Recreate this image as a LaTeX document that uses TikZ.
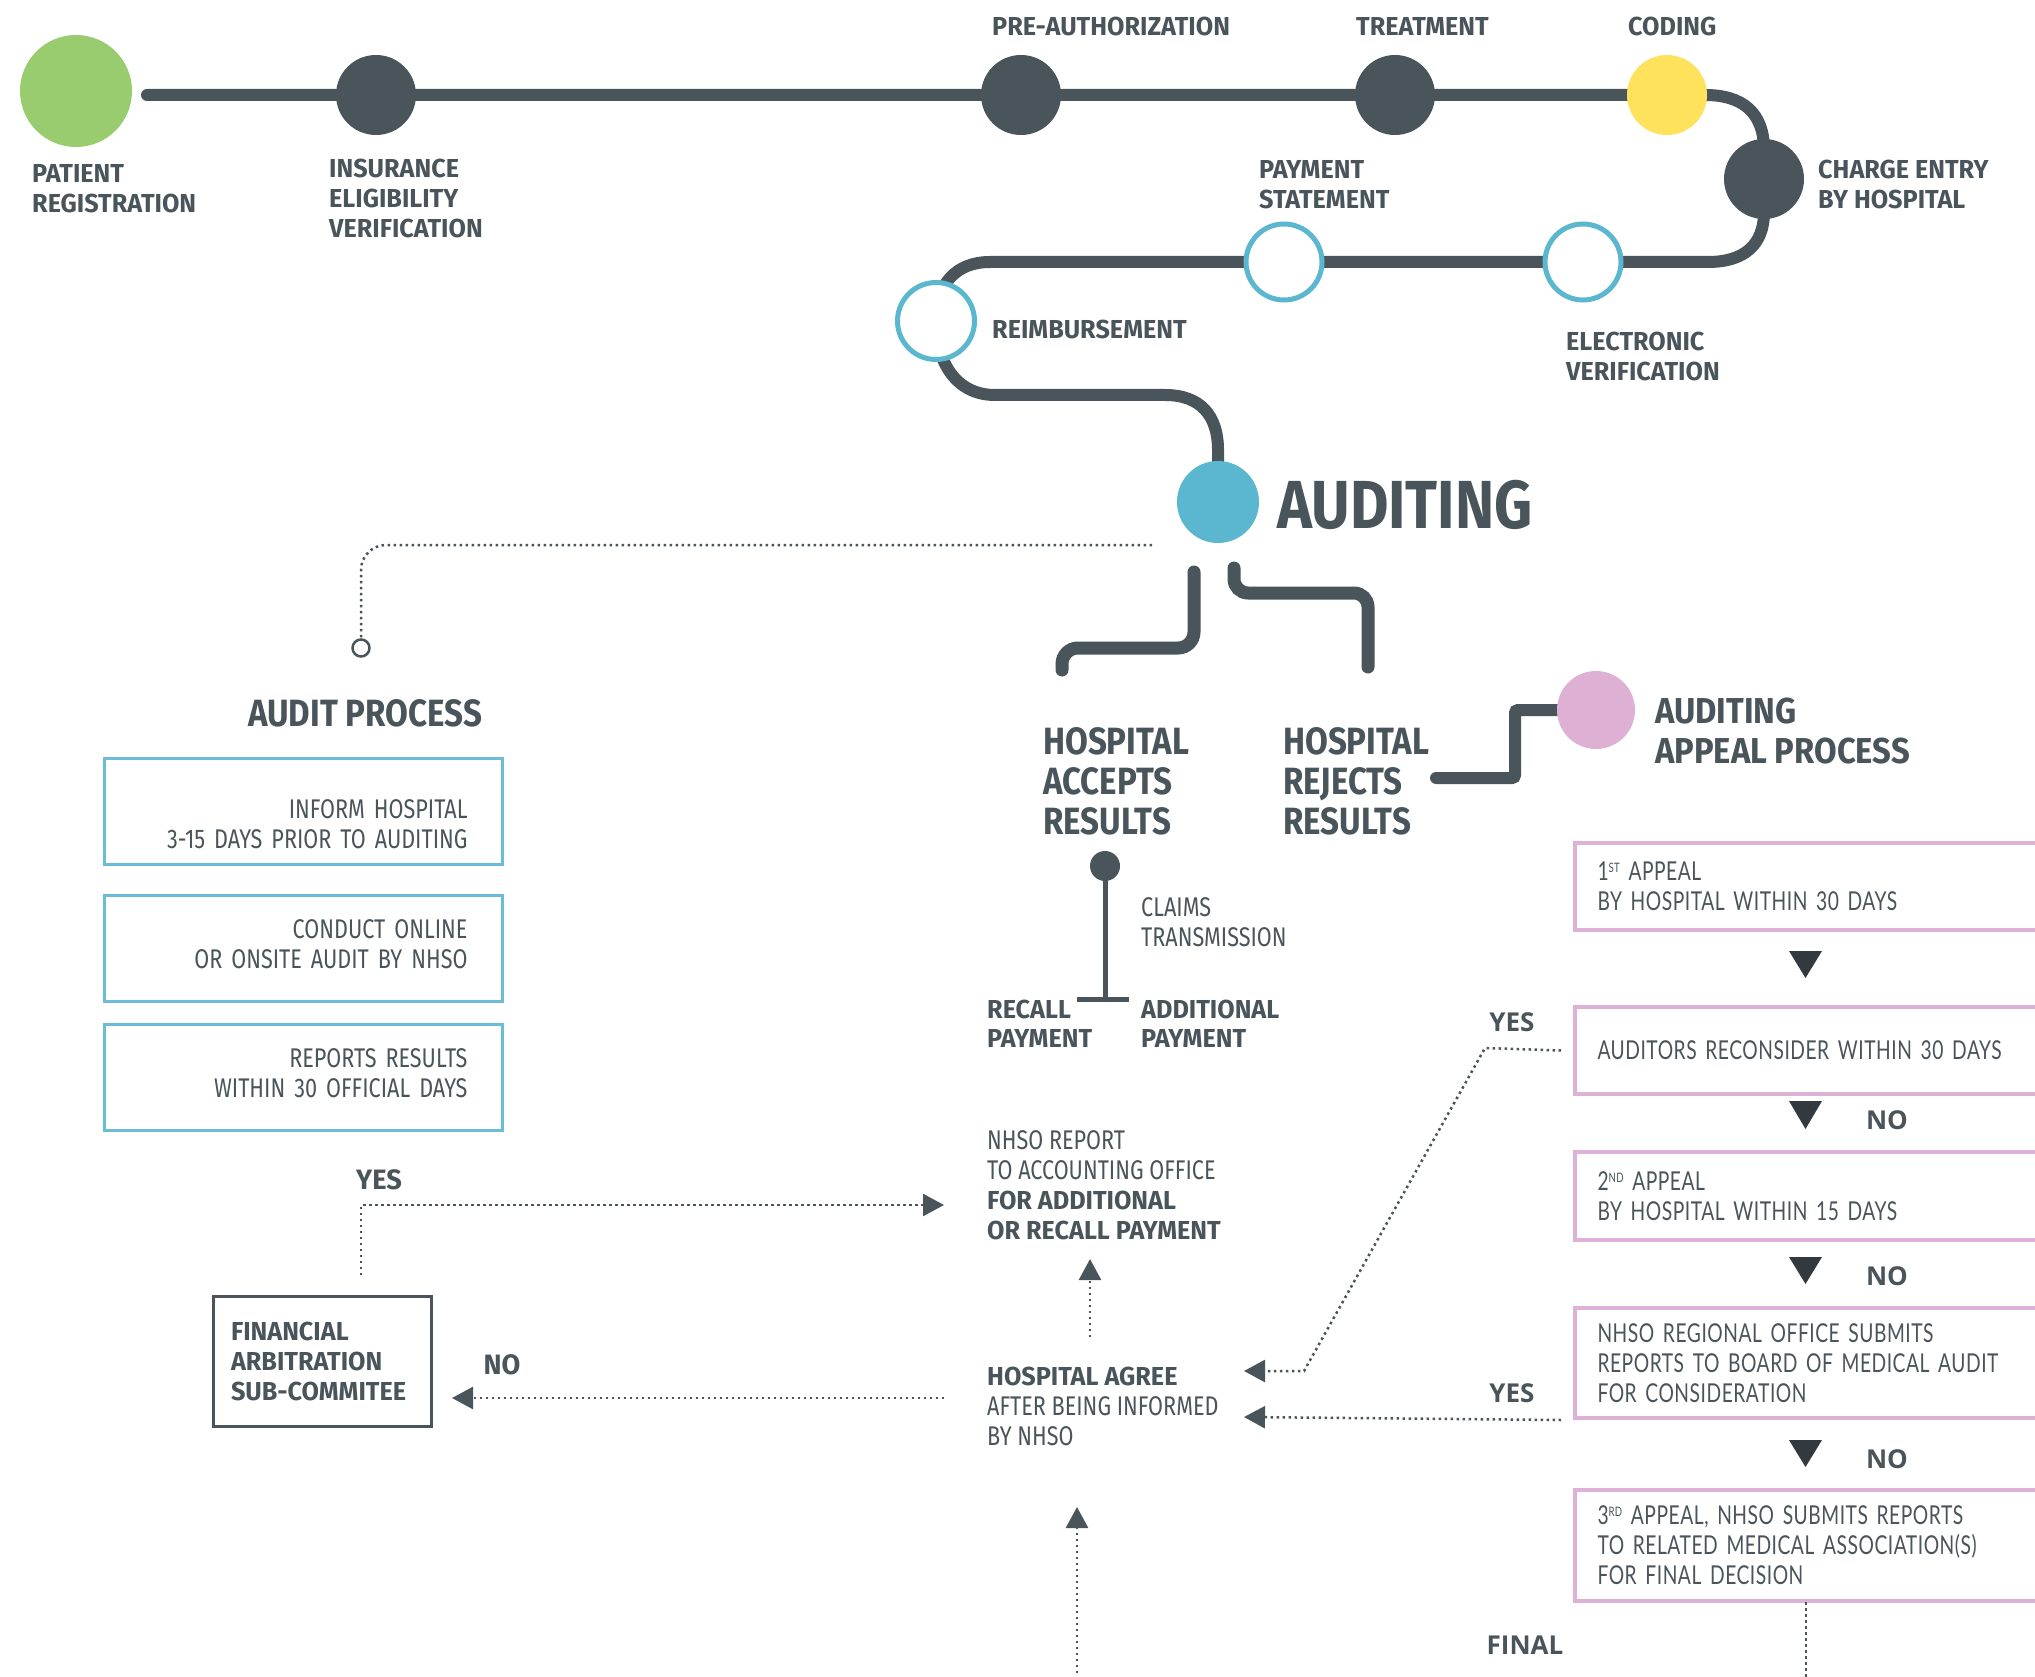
\documentclass[tikz,border=0pt]{standalone}
\usepackage{fontspec}
\usetikzlibrary{arrows.meta,backgrounds}
\setmainfont{Fira Sans}
\newfontfamily\fcb[FakeStretch=0.97]{Fira Sans}
\newfontfamily\fcc[FakeStretch=0.87]{Fira Sans}
\newfontfamily\fcd[FakeStretch=0.91]{Fira Sans}
\newfontfamily\fcl[FakeStretch=0.80]{Fira Sans}
\newfontfamily\fwd[FakeStretch=0.74,LetterSpace=2]{Lato}
\newfontfamily\fwb{Open Sans}
\hyphenpenalty=10000
\exhyphenpenalty=10000
\definecolor{dk}{RGB}{74,84,91}
\definecolor{gr}{RGB}{152,204,110}
\definecolor{ye}{RGB}{255,226,92}
\definecolor{bl}{RGB}{91,182,207}
\definecolor{blb}{RGB}{107,189,214}
\definecolor{pk}{RGB}{222,176,211}
\definecolor{pkb}{RGB}{221,178,214}
\definecolor{tri}{RGB}{51,58,63}
\tikzset{
  tl/.style={line width=12pt, draw=dk, line cap=round},
  br/.style={line width=13pt, draw=dk, line cap=round, rounded corners=16pt},
  dotl/.style={draw=dk, line width=2.5pt, dash pattern=on 2.5pt off 3.5pt},
  dotarr/.style={dotl, -{Triangle[length=21pt,width=22pt]}},
  blob/.style={circle, inner sep=0pt, draw=none, minimum size=80pt},
  ring/.style={circle, inner sep=0pt, draw=bl, line width=5pt, fill=white, minimum size=76pt},
  lab/.style={inner sep=0pt, anchor=north west, align=left, text=dk, font=\fcb\bfseries\fontsize{26}{30}\selectfont},
  labl/.style={lab, font=\fcl\fontsize{27}{30}\selectfont},
  big/.style={lab, font=\fcc\bfseries\fontsize{38}{40}\selectfont},
  yn/.style={inner sep=0pt, anchor=center, text=dk, font=\fcb\bfseries\fontsize{28}{30}\selectfont},
  ynw/.style={inner sep=0pt, anchor=center, text=dk, font=\fwb\bfseries\fontsize{26}{30}\selectfont},
  bbox/.style={draw=blb, line width=3pt, anchor=north west, minimum width=398pt, text width=328pt, inner xsep=35pt, inner ysep=0pt, align=right, text=dk, font=\fcl\fontsize{27}{30}\selectfont},
  pbox/.style={draw=pkb, line width=4pt, anchor=north west, text width=430pt, inner xsep=22.5pt, inner ysep=0pt, align=left, text=dk, font=\fwd\fontsize{26}{30}\selectfont},
  tri/.style={fill=tri},
}
\newcommand\supx[1]{\raisebox{8pt}{\fontsize{13}{13}\selectfont #1}}
\begin{document}
\begin{tikzpicture}[x=1pt,y=-1pt]
\useasboundingbox (0,0) rectangle (2035,1677);
\clip (0,0) rectangle (2035,1677);

% ---------- timeline circles
\node[blob, fill=gr, minimum size=112pt] (reg) at (76,91) {};
\node[blob, fill=dk] (ins) at (376,95) {};
\node[blob, fill=dk] (pre) at (1021,95) {};
\node[blob, fill=dk] (tre) at (1395,95) {};
\node[blob, fill=ye] (cod) at (1667,95) {};
\node[blob, fill=dk] (cha) at (1764,179) {};
\node[ring] (pay) at (1284,262) {};
\node[ring] (ele) at (1583,262) {};
\node[ring, minimum size=77pt] (rei) at (936,321) {};
\node[blob, fill=bl, minimum size=82pt] (aud) at (1218,502) {};
\node[blob, fill=pk, minimum size=78pt] (apc) at (1596,710) {};
\node[blob, fill=dk, minimum size=30pt] (cdot) at (1105,866) {};
\node[circle, draw=dk, line width=2.5pt, fill=white, minimum size=17pt, inner sep=0pt] (sc) at (361,648) {};

\coordinate (tls) at (147,95);
\coordinate (acc1) at (1194,572);
\coordinate (acc2) at (1062,670);
\coordinate (rej1) at (1234,568);
\coordinate (rej2) at (1368,667);
\coordinate (rjs) at (1436,778);
\coordinate (cbar) at (1105,999);

\begin{pgfonlayer}{background}
\fill[white] (0,0) rectangle (2035,1677);
\draw[tl] (tls) -- (cod.center) -- (1705,95) .. controls (1742,95) and (1764,112) .. (1764,150) -- (cha.center) -- (1764,212) .. controls (1764,245) and (1744,262) .. (1708,262) -- (ele.center) -- (pay.center) -- (990,262) .. controls (956,262) and (936,284) .. (936,321) .. controls (936,362) and (956,395) .. (995,395) -- (1165,395) .. controls (1200,395) and (1218,415) .. (1218,450) -- (aud.center);
\draw[br] (acc1) -- (1194,648) -- (1062,648) -- (acc2);
\draw[br, rounded corners=14pt] (rej1) -- (1234,593) -- (1368,593) -- (rej2);
\draw[line width=12pt, draw=dk, line cap=round, rounded corners=3pt] (rjs) -- (1515,778) -- (1515,710) -- (apc.center);
\draw[draw=dk, line width=5pt] (cdot.center) -- (cbar);
\end{pgfonlayer}
\draw[draw=dk, line width=5pt] ([xshift=-28pt]cbar) -- ([xshift=24pt]cbar);

% ---------- timeline labels
\node[lab] (lreg) at (32,164) {PATIENT\\REGISTRATION};
\node[lab] (lins) at (329,159) {INSURANCE\\ELIGIBILITY\\VERIFICATION};
\node[lab] (lpre) at (992,17) {PRE-AUTHORIZATION};
\node[lab] (ltre) at (1356,17) {TREATMENT};
\node[lab] (lcod) at (1628,17) {CODING};
\node[lab] (lcha) at (1818,160) {CHARGE ENTRY\\BY HOSPITAL};
\node[lab] (lpay) at (1259,160) {PAYMENT\\STATEMENT};
\node[lab] (lele) at (1566,332) {ELECTRONIC\\VERIFICATION};
\node[lab] (lrei) at (992,320) {REIMBURSEMENT};
\node[lab, font=\fcc\bfseries\fontsize{68}{72}\selectfont] (laud) at (1277,480) {AUDITING};

% ---------- audit process (left)
\coordinate (dS) at (1152,545);
\draw[dotl, rounded corners=25pt] (dS) -| (sc);
\node[lab, font=\fcc\bfseries\fontsize{38}{40}\selectfont] (lap) at (248,699) {AUDIT PROCESS};
\node[bbox, minimum height=106pt] (bb1) at (103,757) {\rule{0pt}{45pt}INFORM HOSPITAL\\3-15 DAYS PRIOR TO AUDITING};
\node[bbox, minimum height=106pt] (bb2) at (103,894) {CONDUCT ONLINE\\OR ONSITE AUDIT BY NHSO\rule[-9pt]{0pt}{9pt}};
\node[bbox, minimum height=106pt] (bb3) at (103,1023) {REPORTS RESULTS\\WITHIN 30 OFFICIAL DAYS\rule[-9pt]{0pt}{9pt}};

\node[draw=dk, line width=3pt, minimum width=218pt, minimum height=130pt, text width=182pt, inner xsep=18pt, inner ysep=0pt, align=left, text=dk, font=\fcb\bfseries\fontsize{26}{30}\selectfont] (fin) at (322,1361) {FINANCIAL\\ARBITRATION\\SUB-COMMITEE};
\node[yn] (lyes1) at (379,1180) {YES};
\node[yn] (lno1) at (502,1365) {NO};

% ---------- hospital accepts / rejects
\node[big] (lacc) at (1043,727) {HOSPITAL\\ACCEPTS\\RESULTS};
\node[big] (lrej) at (1283,727) {HOSPITAL\\REJECTS\\RESULTS};
\node[big, font=\fcd\bfseries\fontsize{36}{40}\selectfont] (lapp) at (1655,698) {AUDITING\\APPEAL PROCESS};

\node[labl] (lcla) at (1141,897) {CLAIMS\\TRANSMISSION};
\node[lab, font=\fcb\bfseries\fontsize{26}{29}\selectfont] (lrec) at (987,1000) {RECALL\\PAYMENT};
\node[lab, font=\fcb\bfseries\fontsize{26}{29}\selectfont] (ladd) at (1141,1000) {ADDITIONAL\\PAYMENT};
\node[labl] (lnh) at (987,1130) {NHSO REPORT\\TO ACCOUNTING OFFICE\\{\fcb\bfseries\fontsize{26}{30}\selectfont FOR ADDITIONAL}\\{\fcb\bfseries\fontsize{26}{30}\selectfont OR RECALL PAYMENT}};
\node[labl] (lagr) at (987,1367) {{\fcb\bfseries\fontsize{26}{30}\selectfont HOSPITAL AGREE}\\AFTER BEING INFORMED\\BY NHSO};

% ---------- appeal boxes
\node[pbox, minimum height=87pt] (b1) at (1573,841) {1\supx{ST} APPEAL\\BY HOSPITAL WITHIN 30 DAYS};
\node[pbox, minimum height=87pt] (b2) at (1573,1005) {AUDITORS RECONSIDER WITHIN 30 DAYS};
\node[pbox, minimum height=88pt] (b3) at (1573,1150) {2\supx{ND} APPEAL\\BY HOSPITAL WITHIN 15 DAYS};
\node[pbox, minimum height=110pt] (b4) at (1573,1306) {NHSO REGIONAL OFFICE SUBMITS\\REPORTS TO BOARD OF MEDICAL AUDIT\\FOR CONSIDERATION};
\node[pbox, minimum height=111pt] (b5) at (1573,1488) {3\supx{RD} APPEAL, NHSO SUBMITS REPORTS\\TO RELATED MEDICAL ASSOCIATION(S)\\FOR FINAL DECISION};

\fill[tri] (1789,951) -- (1822,951) -- (1805.5,978) -- cycle;
\fill[tri] (1789,1101) -- (1822,1101) -- (1805.5,1129) -- cycle;
\fill[tri] (1789,1257) -- (1822,1257) -- (1805.5,1284) -- cycle;
\fill[tri] (1789,1440) -- (1822,1440) -- (1805.5,1467) -- cycle;

\node[ynw] (lno2) at (1887,1120) {NO};
\node[ynw] (lno3) at (1887,1276) {NO};
\node[ynw] (lno4) at (1887,1459) {NO};
\node[ynw] (lyes2) at (1512,1022) {YES};
\node[ynw] (lyes3) at (1512,1393) {YES};
\node[ynw] (lfin) at (1525,1645) {FINAL};

% ---------- dotted connectors
\coordinate (yesS) at (361,1275);
\coordinate (yesE) at (944,1205);
\draw[dotarr] (yesS) |- (yesE);
\coordinate (noS) at (944,1398);
\coordinate (noE) at (452,1398);
\draw[dotarr] (noS) -- (noE);
\coordinate (upS) at (1090,1337);
\coordinate (upE) at (1090,1259);
\draw[dotarr] (upS) -- (upE);
\coordinate (diaE) at (1244,1371);
\draw[dotarr] ([xshift=-12pt]b2.west) -- (1485,1048) -- (1304,1371) -- (diaE);
\coordinate (yes3E) at (1244,1417);
\draw[dotarr] ([xshift=-12pt]b4.south west) -- (yes3E);
\coordinate (botS) at (1077,1685);
\coordinate (botE) at (1077,1507);
\draw[dotarr] (botS) -- (botE);
\coordinate (b5d) at (1806,1602);
\draw[dotl] (b5d) -- (1806,1685);
\end{tikzpicture}
\end{document}
